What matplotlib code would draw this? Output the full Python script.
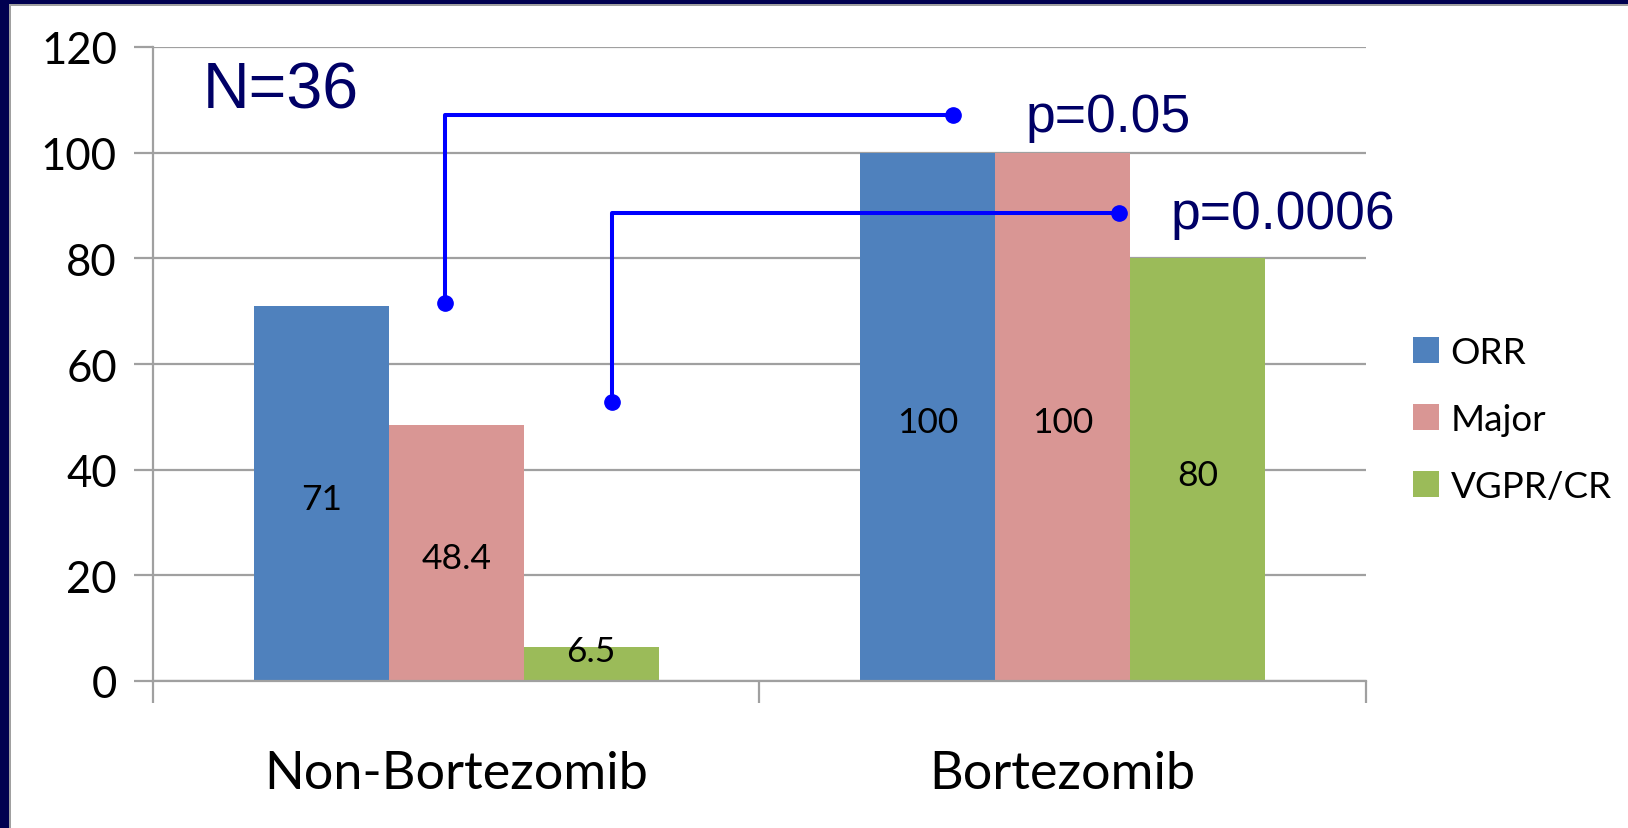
import matplotlib
matplotlib.use("Agg")
import matplotlib.pyplot as plt
import numpy as np
from matplotlib.patches import Rectangle

plt.rcParams['font.family'] = ['Lato', 'DejaVu Sans']

categories = ["Non-Bortezomib", "Bortezomib"]
series = ["ORR", "Major", "VGPR/CR"]
orr = [71, 100]
major = [48.4, 100]
vgpr_cr = [6.5, 80]
colors = ["#4F81BD", "#D99694", "#9BBB59"]
yticks = [0, 20, 40, 60, 80, 100, 120]

W, H = 1628, 829
fig = plt.figure(figsize=(W / 100, H / 100), dpi=100)
fig.patch.set_facecolor("white")
# navy frame on the left and top edges, with a thin gray inner rim
fig.add_artist(Rectangle((0, 0), 9 / W, 1, transform=fig.transFigure,
                         facecolor="#000050", edgecolor="none", zorder=0))
fig.add_artist(Rectangle((0, 1 - 5 / H), 1, 5 / H, transform=fig.transFigure,
                         facecolor="#000050", edgecolor="none", zorder=0))
fig.add_artist(Rectangle((9 / W, 0), 2 / W, 1 - 5 / H, transform=fig.transFigure,
                         facecolor="#A0A0A0", edgecolor="none", zorder=0))
fig.add_artist(Rectangle((9 / W, 1 - 7 / H), 1, 2 / H, transform=fig.transFigure,
                         facecolor="#A0A0A0", edgecolor="none", zorder=0))

ax = fig.add_axes([153 / W, 1 - 682 / H, (1366 - 153) / W, (682 - 48) / H])
ax.set_facecolor("white")

x = np.arange(len(categories))
bw = 0.2225
for i, (vals, c) in enumerate(zip([orr, major, vgpr_cr], colors)):
    pos = x + (i - 1) * bw
    ax.bar(pos, vals, width=bw, color=c, label=series[i], zorder=2)
    for p, v in zip(pos, vals):
        ax.text(p, v / 2 - 1 if v > 10 else v / 2 + 2.5, f"{v:g}", ha="center",
                va="center", fontsize=25.5, color="black", zorder=3)

ax.set_xlim(-0.5, 1.5)
ax.set_ylim(0, 120)
ax.set_yticks(yticks)
ax.set_yticklabels([str(t) for t in yticks], fontsize=31.5)
ax.yaxis.grid(True, color="#A0A0A0", linewidth=1.6, zorder=0)
ax.set_axisbelow(True)

ax.set_xticks([-0.5, 0.5, 1.5])
ax.set_xticklabels([])
ax.tick_params(axis="x", length=16, width=1.6, color="#A0A0A0", direction="out")
ax.tick_params(axis="y", length=14, width=1.6, color="#A0A0A0", direction="out", pad=12)
for s in ["top", "right"]:
    ax.spines[s].set_visible(False)
for s in ["left", "bottom"]:
    ax.spines[s].set_color("#A0A0A0")
    ax.spines[s].set_linewidth(1.6)

for xi, name in zip(x, categories):
    ax.text(xi, -17.5, name, ha="center", va="center", fontsize=37.5,
            color="black", clip_on=False)

# significance brackets
blue = "#0000FF"
ax.plot([-0.019, -0.019, 0.819], [71.5, 107.2, 107.2], color=blue, lw=2.9,
        zorder=4, clip_on=False)
ax.plot([-0.019, 0.819], [71.5, 107.2], linestyle="none", marker="o", ms=11,
        color=blue, zorder=5, clip_on=False)
ax.plot([0.256, 0.256, 1.093], [52.8, 88.6, 88.6], color=blue, lw=2.9,
        zorder=4, clip_on=False)
ax.plot([0.256, 1.093], [52.8, 88.6], linestyle="none", marker="o", ms=11,
        color=blue, zorder=5, clip_on=False)

navy = "#000066"
ax.text(-0.418, 111.7, "N=36", fontsize=46.5, color=navy, ha="left", va="center",
        family="Liberation Sans")
ax.text(0.939, 106.8, "p=0.05", fontsize=38.5, color=navy, ha="left", va="center",
        family="Liberation Sans")
ax.text(1.178, 88.4, "p=0.0006", fontsize=38.5, color=navy, ha="left", va="center",
        family="Liberation Sans", clip_on=False)

ax.legend(loc="center left", bbox_to_anchor=(1.0, 0.413), frameon=False,
          fontsize=26.5, handlelength=0.71, handleheight=0.71,
          labelspacing=0.92, handletextpad=0.32, borderaxespad=0.87)

fig.savefig("out.png", dpi=100, facecolor=fig.get_facecolor())
